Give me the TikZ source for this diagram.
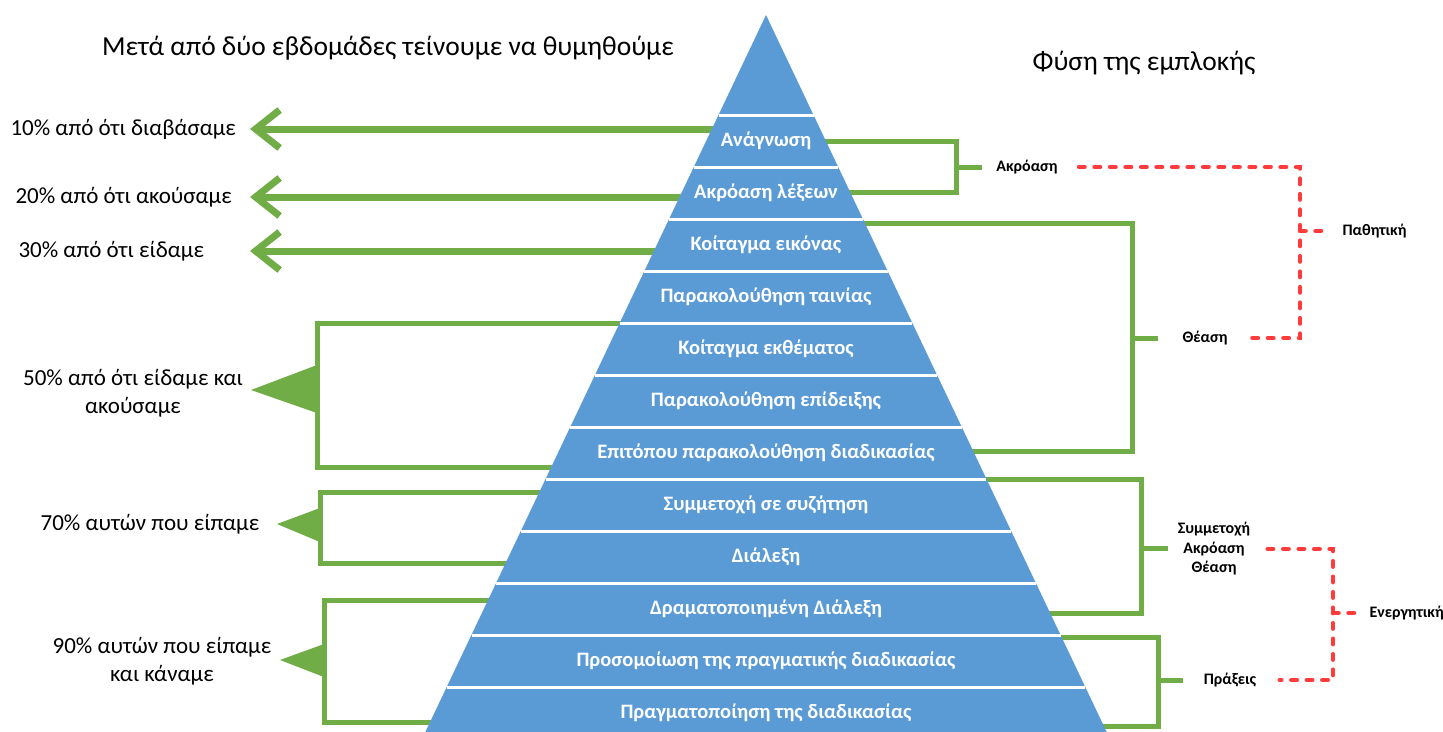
\documentclass[tikz,border=0pt]{standalone}
\usepackage{fontspec}
\setmainfont{Carlito}
\usetikzlibrary{positioning, arrows.meta, backgrounds}

\definecolor{pyrblue}{HTML}{5B9BD5}
\definecolor{brgreen}{HTML}{70AD47}
\definecolor{dashred}{HTML}{FF3B3B}

\begin{document}
\begin{tikzpicture}[
    x=1pt, y=-1pt,
    layer/.style={text=white, font=\bfseries\fontsize{20.5}{24}\selectfont},
    recall/.style={font=\fontsize{23}{27.5}\selectfont, align=center},
    kind/.style={font=\bfseries\fontsize{16}{19.5}\selectfont, align=center},
    title/.style={font=\fontsize{27.5}{32}\selectfont},
    green arrow/.style={draw=brgreen, line width=7pt, -{Straight Barb[length=24pt, width=38pt]}},
    bracket/.style={draw=brgreen, line width=5pt},
    pointer/.style={fill=brgreen},
    link/.style={draw=dashred, line width=4.5pt, dash pattern=on 5.5pt off 10pt, line cap=round}
]
\clip (0,0) rectangle (1443,731);

% pyramid
\fill[pyrblue] (766,15) -- (1110,739) -- (422,739) -- cycle;
\foreach \y in {115,167,...,687}
    \draw[white, line width=3pt] ({766-0.475*(\y-15)},\y) -- ({766+0.475*(\y-15)},\y);
\foreach \txt [count=\k] in {Ανάγνωση, Ακρόαση λέξεων, Κοίταγμα εικόνας, Παρακολούθηση ταινίας,
    Κοίταγμα εκθέματος, Παρακολούθηση επίδειξης, Επιτόπου παρακολούθηση διαδικασίας,
    Συμμετοχή σε συζήτηση, Διάλεξη, Δραματοποιημένη Διάλεξη,
    Προσομοίωση της πραγματικής διαδικασίας, Πραγματοποίηση της διαδικασίας}
    \node[layer] (l\k) at (766,{89+52*\k}) {\txt};

% titles
\node[title] (t1) at (388,48) {Μετά από δύο εβδομάδες τείνουμε να θυμηθούμε};
\node[title] (t2) at (1144,63) {Φύση της εμπλοκής};

% left side
\node[recall, anchor=west] (r10) at (7,129) {10\% από ότι διαβάσαμε};
\node[recall, anchor=west] (r20) at (12,197) {20\% από ότι ακούσαμε};
\node[recall, anchor=west] (r30) at (15,251) {30\% από ότι είδαμε};
\node[recall] (r50) at (133,393) {50\% από ότι είδαμε και\\ακούσαμε};
\node[recall] (r70) at (150,524) {70\% αυτών που είπαμε};
\node[recall] (r90) at (162,661) {90\% αυτών που είπαμε\\και κάναμε};

% right side
\node[kind] (hA) at (1027,167) {Ακρόαση};
\node[kind] (hB) at (1205,338) {Θέαση};
\node[kind] (hC) at (1214,549) {Συμμετοχή\\Ακρόαση\\Θέαση};
\node[kind] (hD) at (1230,680) {Πράξεις};
\node[kind, anchor=west] (hP) at (1339,231) {Παθητική};
\node[kind, anchor=west] (hE) at (1366,613) {Ενεργητική};

\coordinate (a10) at (250,129);
\coordinate (a20) at (250,197);
\coordinate (a30) at (250,251);
\coordinate (q50) at (317,390);
\coordinate (q70) at (320,525);
\coordinate (q90) at (324,660);
\coordinate (bA) at (956,167);
\coordinate (bB) at (1132,338);
\coordinate (bC) at (1141,548);
\coordinate (bD) at (1158,680);
\coordinate (pP) at (1300,231);
\coordinate (pE) at (1333,613);

\begin{scope}[on background layer]
\draw[green arrow] (l1 |- a10) -- (a10);
\draw[green arrow] (l2 |- a20) -- (a20);
\draw[green arrow] (l3 |- a30) -- (a30);

\draw[bracket] (700,323) -| (q50) |- (700,467);
\fill[pointer] (q50) ++(0,-25) -- ++(-66,25) -- ++(66,23) -- cycle;
\draw[bracket] (700,492) -| (q70) |- (700,563);
\fill[pointer] (q70) ++(0,-17) -- ++(-43,16) -- ++(43,18) -- cycle;
\draw[bracket] (700,600) -| (q90) |- (700,722);
\fill[pointer] (q90) ++(0,-16) -- ++(-44,16) -- ++(44,17) -- cycle;

\draw[bracket] (780,141) -| (bA) |- (780,192);
\draw[bracket] (bA) -- ++(26,0);
\draw[bracket] (800,223) -| (bB) |- (800,451);
\draw[bracket] (bB) -- ++(26,0);
\draw[bracket] (800,479) -| (bC) |- (800,613);
\draw[bracket] (bC) -- ++(27,0);
\draw[bracket] (800,637) -| (bD) |- (800,726);
\draw[bracket] (bD) -- ++(25,0);
\end{scope}

\draw[link] ([xshift=18pt]hA.east) -| (pP) |- ([xshift=18pt]hB.east);
\draw[link] (pP) -- ([xshift=-12pt]hP.west);
\draw[link] ([xshift=14pt]hC.east) -| (pE) |- ([xshift=20pt]hD.east);
\draw[link] (pE) -- ([xshift=-6pt]hE.west);
\end{tikzpicture}
\end{document}
